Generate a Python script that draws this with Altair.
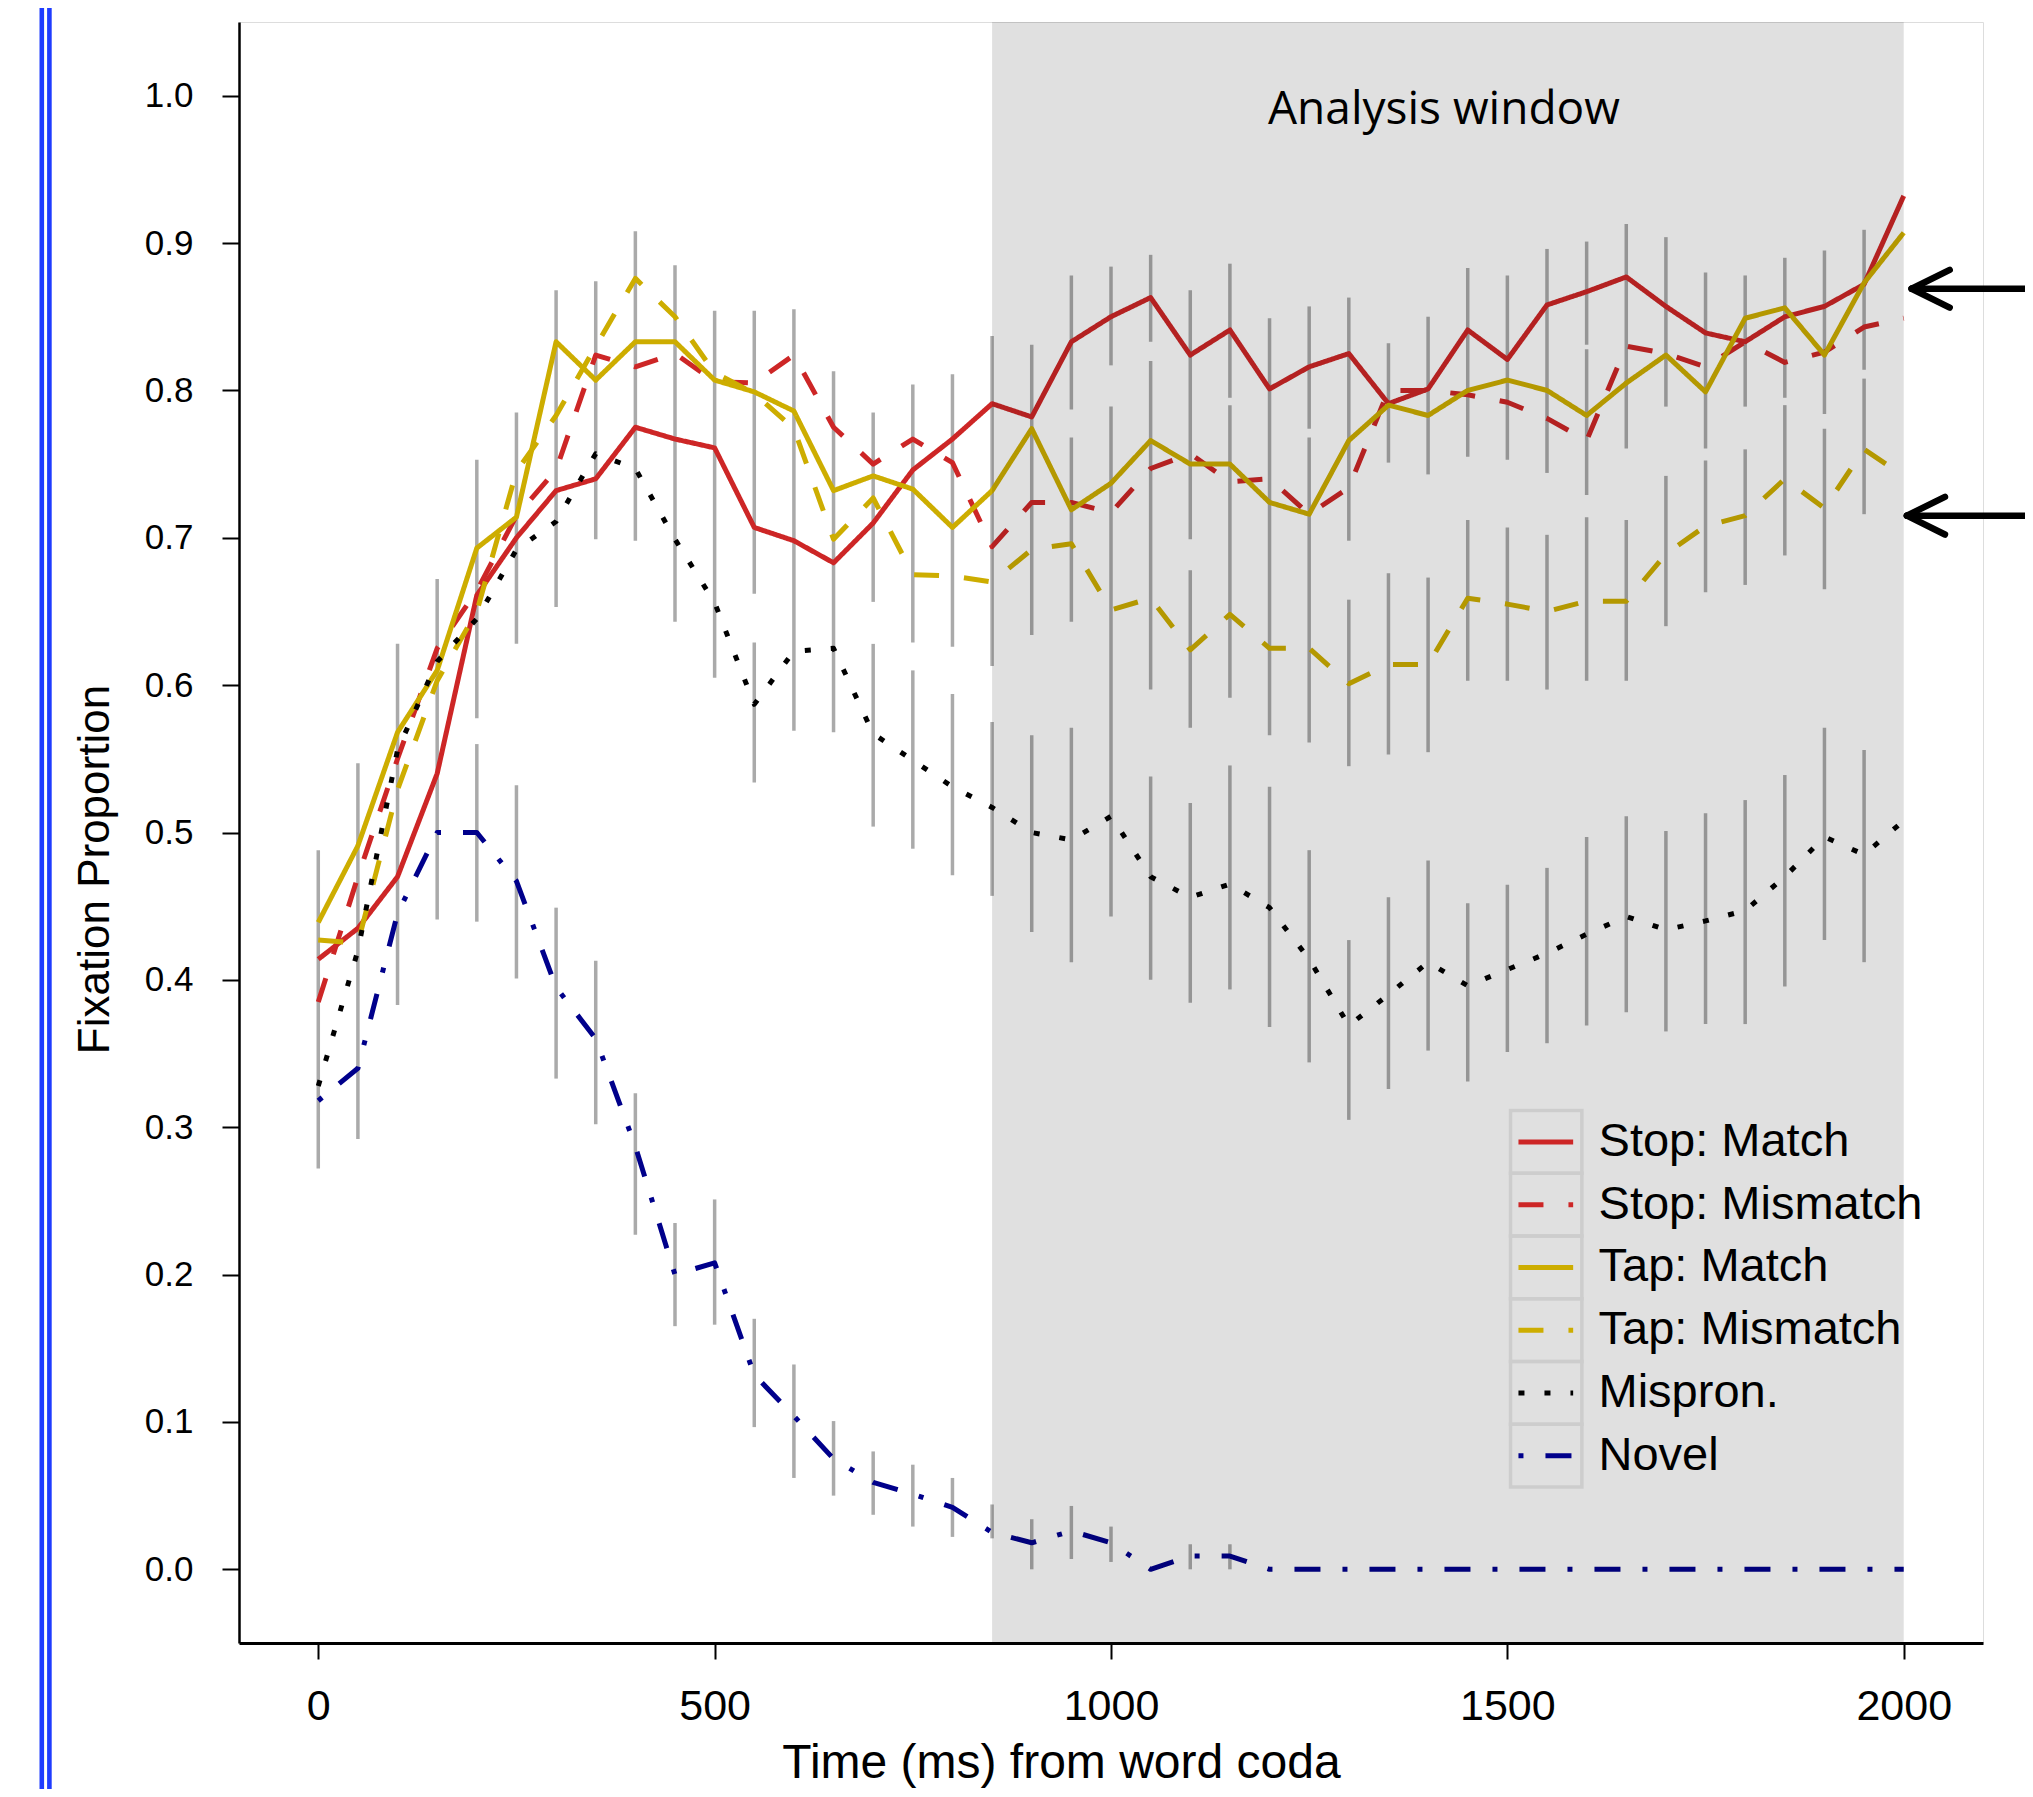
import altair as alt
import pandas as pd

# ---------------- data ----------------
times = list(range(0, 2001, 50))

stop_match = [0.414, 0.435, 0.470, 0.540, 0.661, 0.700, 0.732, 0.740, 0.775, 0.767,
              0.761, 0.707, 0.698, 0.683, 0.710, 0.746, 0.767, 0.791, 0.782, 0.833,
              0.850, 0.863, 0.824, 0.841, 0.801, 0.816, 0.825, 0.791, 0.801, 0.841,
              0.821, 0.858, 0.867, 0.877, 0.857, 0.839, 0.833, 0.850, 0.857, 0.872, 0.932]
stop_mismatch = [0.385, 0.470, 0.550, 0.625, 0.664, 0.715, 0.746, 0.824, 0.816, 0.825,
                 0.806, 0.805, 0.824, 0.775, 0.750, 0.767, 0.751, 0.694, 0.724, 0.724,
                 0.717, 0.747, 0.757, 0.738, 0.740, 0.716, 0.734, 0.800, 0.800, 0.797,
                 0.792, 0.781, 0.766, 0.830, 0.825, 0.816, 0.833, 0.819, 0.826, 0.843, 0.849]
tap_match = [0.439, 0.491, 0.568, 0.610, 0.693, 0.714, 0.833, 0.807, 0.833, 0.833,
             0.807, 0.799, 0.786, 0.732, 0.742, 0.733, 0.707, 0.732, 0.774, 0.719,
             0.737, 0.766, 0.750, 0.750, 0.724, 0.716, 0.766, 0.790, 0.783, 0.800,
             0.807, 0.800, 0.783, 0.805, 0.824, 0.799, 0.849, 0.856, 0.824, 0.873, 0.907]
tap_mismatch = [0.427, 0.425, 0.529, 0.603, 0.650, 0.745, 0.783, 0.830, 0.876, 0.850,
                0.812, 0.798, 0.774, 0.699, 0.727, 0.675, 0.674, 0.670, 0.692, 0.696,
                0.651, 0.659, 0.624, 0.648, 0.625, 0.625, 0.601, 0.614, 0.614, 0.659,
                0.655, 0.650, 0.657, 0.657, 0.689, 0.708, 0.715, 0.740, 0.720, 0.760, 0.742]
mispron = [0.328, 0.420, 0.556, 0.616, 0.645, 0.692, 0.711, 0.757, 0.747, 0.699,
           0.656, 0.587, 0.623, 0.625, 0.567, 0.549, 0.531, 0.517, 0.500, 0.495,
           0.511, 0.470, 0.456, 0.465, 0.449, 0.414, 0.369, 0.390, 0.412, 0.396,
           0.407, 0.418, 0.431, 0.443, 0.434, 0.440, 0.447, 0.470, 0.497, 0.485, 0.508]
novel = [0.318, 0.340, 0.445, 0.500, 0.500, 0.467, 0.395, 0.360, 0.287, 0.200,
         0.208, 0.132, 0.104, 0.075, 0.059, 0.051, 0.042, 0.025, 0.018, 0.026,
         0.018, 0.000, 0.009, 0.009, 0.000, 0.000, 0.000, 0.000, 0.000, 0.000,
         0.000, 0.000, 0.000, 0.000, 0.000, 0.000, 0.000, 0.000, 0.000, 0.000, 0.000]

series_names = ["Stop: Match", "Stop: Mismatch", "Tap: Match", "Tap: Mismatch", "Mispron.", "Novel"]

# visible error-bar segments (time, low, high)
eb_t = [0, 50, 100, 150,
        200, 200, 250, 250, 300, 300, 350, 350, 400, 400, 450, 450, 500, 500,
        550, 550, 550, 600, 600, 650, 650,
        700, 700, 700, 750, 750, 750, 800, 800, 800, 850, 850, 850, 900, 900, 900,
        950, 950, 950, 950, 1000, 1000, 1000, 1050, 1050, 1050,
        1100, 1100, 1100, 1100, 1150, 1150, 1150, 1150, 1200, 1200,
        1250, 1250, 1250, 1300, 1300, 1300, 1350, 1350, 1350, 1400, 1400, 1400,
        1450, 1450, 1450, 1500, 1500, 1500, 1550, 1550, 1550,
        1600, 1600, 1600, 1600, 1650, 1650, 1650, 1700, 1700, 1700,
        1750, 1750, 1750, 1800, 1800, 1800, 1850, 1850, 1850, 1900, 1900, 1900,
        1950, 1950, 1950]
eb_lo = [0.272, 0.292, 0.383, 0.441,
         0.5775, 0.4395, 0.628, 0.401, 0.653, 0.333, 0.699, 0.302, 0.698, 0.227, 0.643, 0.165, 0.605, 0.166,
         0.662, 0.534, 0.0965, 0.569, 0.062, 0.568, 0.050,
         0.6565, 0.504, 0.037, 0.629, 0.489, 0.029, 0.626, 0.471, 0.022, 0.613, 0.457, 0.021, 0.634, 0.4325, 0.000,
         0.787, 0.643, 0.412, 0.007, 0.817, 0.443, 0.005, 0.833, 0.597, 0.400,
         0.699, 0.571, 0.3845, 0.000, 0.795, 0.5915, 0.3935, 0.000, 0.566, 0.368,
         0.774, 0.561, 0.344, 0.698, 0.545, 0.305, 0.751, 0.553, 0.326, 0.743, 0.5545, 0.352,
         0.755, 0.603, 0.331, 0.753, 0.603, 0.351, 0.744, 0.597, 0.357,
         0.831, 0.729, 0.603, 0.369, 0.7605, 0.603, 0.378, 0.789, 0.640, 0.365,
         0.7605, 0.663, 0.370, 0.789, 0.668, 0.370, 0.795, 0.688, 0.3955, 0.784, 0.665, 0.427,
         0.814, 0.716, 0.412]
eb_hi = [0.488, 0.547, 0.628, 0.672,
         0.753, 0.560, 0.785, 0.532, 0.868, 0.449, 0.874, 0.413, 0.908, 0.323, 0.885, 0.235, 0.854, 0.251,
         0.854, 0.629, 0.170, 0.855, 0.139, 0.813, 0.1006,
         0.785, 0.628, 0.080, 0.804, 0.610, 0.071, 0.811, 0.594, 0.062, 0.837, 0.575, 0.044, 0.831, 0.566, 0.034,
         0.878, 0.768, 0.571, 0.043, 0.884, 0.789, 0.029, 0.892, 0.820, 0.538,
         0.868, 0.678, 0.520, 0.017, 0.886, 0.790, 0.5455, 0.017, 0.849, 0.531,
         0.857, 0.768, 0.488, 0.863, 0.658, 0.427, 0.832, 0.676, 0.456, 0.850, 0.673, 0.481,
         0.883, 0.712, 0.452, 0.878, 0.707, 0.4645, 0.896, 0.702, 0.476,
         0.901, 0.828, 0.714, 0.497, 0.913, 0.712, 0.511, 0.904, 0.742, 0.501,
         0.880, 0.7525, 0.513, 0.878, 0.760, 0.522, 0.890, 0.790, 0.539, 0.895, 0.774, 0.571,
         0.909, 0.808, 0.556]

window_start = [850]
window_end = [2000]
window_label = ["Analysis window"]

arrow_tip_t = [2010, 2004]
arrow_level = [0.869, 0.715]

# ---------------- styles ----------------
series_colors = ["#CD2626", "#CD2626", "#CDAD00", "#CDAD00", "#000000", "#00008B"]
series_dashes = [[1, 0], [25, 25], [1, 0], [25, 25], [6, 20], [5, 22, 26, 22]]
FONT = "Liberation Sans, Arial, Helvetica, sans-serif"
NARROW = "Liberation Sans Narrow, Arial Narrow, Liberation Sans, sans-serif"

W, H = 1744, 1621

rows = []
for name, vals in zip(series_names, [stop_match, stop_mismatch, tap_match, tap_mismatch, mispron, novel]):
    for t, v in zip(times, vals):
        rows.append({"t": t, "v": v, "series": name})
lines_df = pd.DataFrame(rows)
eb_df = pd.DataFrame({"t": eb_t, "lo": eb_lo, "hi": eb_hi})

x_scale = alt.Scale(domain=[-100, 2100], nice=False, zero=False)
y_scale = alt.Scale(domain=[-0.05, 1.05], nice=False, zero=False)
color_scale = alt.Scale(domain=series_names, range=series_colors)
dash_scale = alt.Scale(domain=series_names, range=series_dashes)

x_axis = alt.Axis(values=[0, 500, 1000, 1500, 2000], format="d", title="Time (ms) from word coda",
                  grid=False, labelFont=FONT, labelFontSize=43, labelColor="black",
                  labelPadding=26, labelFlush=False, labelOverlap=False,
                  tickSize=16, tickWidth=2, tickColor="black",
                  domainColor="black", domainWidth=3,
                  titleFont=FONT, titleFontSize=48, titleFontWeight="normal", titleColor="black",
                  titleX=822, titleY=134, titleAlign="center", titleBaseline="alphabetic")
y_axis = alt.Axis(values=[round(0.1 * i, 1) for i in range(11)], format=".1f",
                  title="Fixation Proportion",
                  grid=False, labelFont=FONT, labelFontSize=35, labelColor="black",
                  labelPadding=29, labelFlush=False, labelOverlap=False,
                  tickSize=17, tickWidth=2, tickColor="black",
                  domainColor="black", domainWidth=2.5,
                  titleFont=NARROW, titleFontSize=44, titleFontWeight="normal", titleColor="black",
                  titleAngle=270, titleX=-131, titleY=847, titleAlign="center",
                  titleBaseline="alphabetic")


def X(field):
    return alt.X(field, type="quantitative", scale=x_scale, axis=x_axis)


def Y(field):
    return alt.Y(field, type="quantitative", scale=y_scale, axis=y_axis)


bars = alt.Chart(eb_df).mark_rule(color="#aaaaaa", strokeWidth=3.5).encode(
    x=X("t"), y=Y("lo"), y2="hi")

lines = alt.Chart(lines_df).mark_line(strokeWidth=5, strokeJoin="round", strokeCap="butt").encode(
    x=X("t"), y=Y("v"),
    color=alt.Color("series:N", scale=color_scale, legend=None),
    strokeDash=alt.StrokeDash("series:N", scale=dash_scale, legend=None),
    detail="series:N")

win_df = pd.DataFrame({"start": window_start, "end": window_end, "label": window_label})
overlay = alt.Chart(win_df).mark_rect(color="black", opacity=0.1216).encode(
    x=X("start"), x2="end", y=alt.value(0), y2=alt.value(H))

# legend built from the series names
LEG_TOP, LEG_ROW = 0.3113, 0.04258
leg_df = pd.DataFrame({"series": series_names, "row": list(range(len(series_names)))})
leg_df["ytop"] = LEG_TOP - leg_df["row"] * LEG_ROW
leg_df["ybot"] = leg_df["ytop"] - LEG_ROW
leg_df["yc"] = leg_df["ytop"] - LEG_ROW / 2
leg_df["cx1"], leg_df["cx2"] = 1504, 1594
leg_df["sx1"], leg_df["sx2"] = 1514, 1583
leg_df["lx"] = 1615

leg_cells = alt.Chart(leg_df).mark_rect(fillOpacity=0, stroke="#cdcdcd", strokeWidth=3.5).encode(
    x=X("cx1"), x2="cx2", y=Y("ytop"), y2="ybot")
leg_samples = alt.Chart(leg_df).mark_rule(strokeWidth=5).encode(
    x=X("sx1"), x2="sx2", y=Y("yc"),
    color=alt.Color("series:N", scale=color_scale, legend=None),
    strokeDash=alt.StrokeDash("series:N", scale=dash_scale, legend=None))
leg_text = alt.Chart(leg_df).mark_text(align="left", baseline="middle", font=FONT,
                                       fontSize=47, color="black").encode(
    x=X("lx"), y=Y("yc"), text="series:N")

ann_df = pd.DataFrame({"t": [1420], "v": [0.981], "label": window_label})
ann = alt.Chart(ann_df).mark_text(align="center", baseline="alphabetic",
                                  font="Open Sans, Liberation Sans, sans-serif",
                                  fontSize=46, color="black").encode(
    x=X("t"), y=Y("v"), text="label:N")

# arrows pointing at the right edge
arr_df = pd.DataFrame({"tip": arrow_tip_t, "lvl": arrow_level})
arr_df["tail"] = 2300
shafts = alt.Chart(arr_df).mark_rule(color="black", strokeWidth=6.5, strokeCap="round").encode(
    x=X("tip"), x2="tail", y=Y("lvl"))
arms = []
for tip, lvl in zip(arrow_tip_t, arrow_level):
    for s in (1, -1):
        arms.append({"x1": tip, "y1": lvl, "x2": tip + 48, "y2": lvl + s * 0.0128})
arms_df = pd.DataFrame(arms)
heads = alt.Chart(arms_df).mark_rule(color="black", strokeWidth=6.5, strokeCap="round").encode(
    x=X("x1"), y=Y("y1"), x2="x2", y2="y2")

# double blue rule at the left edge of the page
edge_df = pd.DataFrame({"k": [0]})
edge1 = alt.Chart(edge_df).mark_rule(color="#1f3cff", strokeWidth=4.6).encode(
    x=alt.value(-197.2), y=alt.value(-40), y2=alt.value(H + 200))
edge2 = alt.Chart(edge_df).mark_rule(color="#1f3cff", strokeWidth=4.6).encode(
    x=alt.value(-189.6), y=alt.value(-40), y2=alt.value(H + 200))

chart = alt.layer(
    bars, lines, overlay, leg_cells, leg_samples, leg_text, ann, shafts, heads, edge1, edge2
).properties(
    width=W, height=H,
    autosize=alt.AutoSizeParams(type="none"),
    padding={"left": 231, "top": 14, "right": 42, "bottom": 146},
).configure_view(stroke=None).configure(background="white")

chart.save("out.html", embed_options={"renderer": "svg", "actions": False})
